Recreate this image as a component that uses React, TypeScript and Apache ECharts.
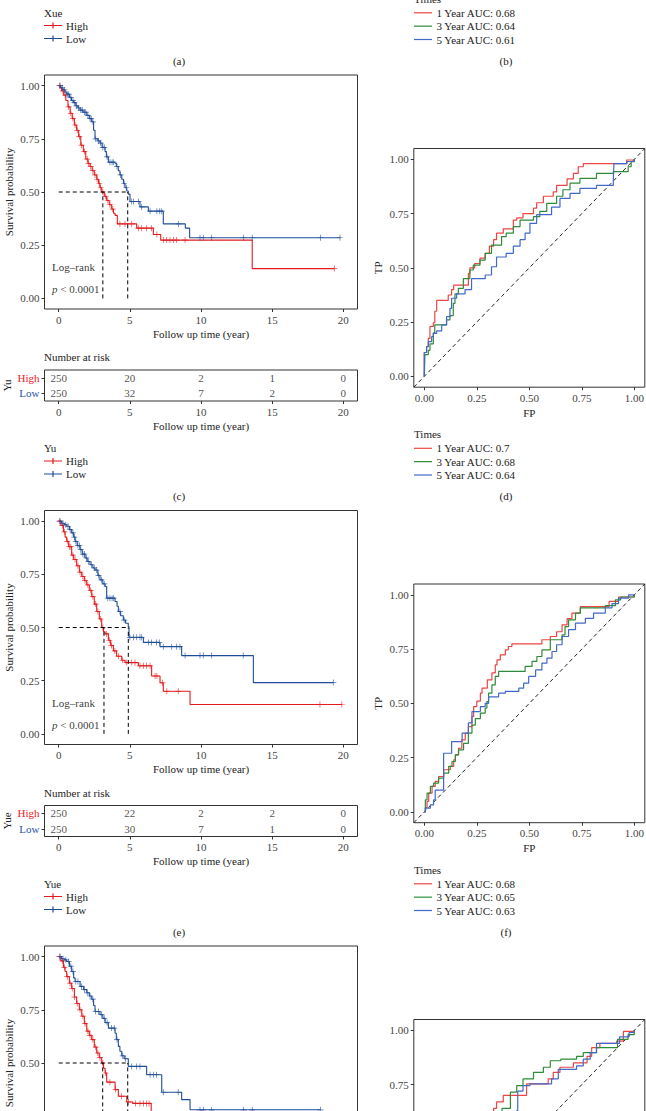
import React, { useEffect, useRef } from 'react';
import * as echarts from 'echarts';

// ---------- data ----------
const timeTicks = [0, 5, 10, 15, 20];
const probTicks = [0, 0.25, 0.5, 0.75, 1];
const riskTimes = [0, 5, 10, 15, 20];
const groups = ['High', 'Low'];
const rocYears = [1, 3, 5];

// (a)/(b) Xue (only legends visible)
const xueName = 'Xue';
const aucXue = [0.68, 0.64, 0.61];

// (c) Yu KM
const yuName = 'Yu';
const yuHighSteps = [[0,1],[0.1,0.99],[0.2,0.975],[0.35,0.955],[0.5,0.93],[0.65,0.9],[0.8,0.87],[0.95,0.845],[1.1,0.815],[1.26,0.79],[1.4,0.76],[1.55,0.72],[1.73,0.69],[1.9,0.655],[2.05,0.635],[2.2,0.62],[2.35,0.6],[2.5,0.58],[2.67,0.56],[2.8,0.54],[2.9,0.52],[3.02,0.5],[3.2,0.48],[3.37,0.46],[3.55,0.44],[3.72,0.42],[3.85,0.4],[3.96,0.39],[4.12,0.35],[5.48,0.33],[6.65,0.3],[7.17,0.274],[13.6,0.14],[19.37,0.14]];
const yuLowSteps = [[0,1],[0.15,0.99],[0.3,0.98],[0.45,0.97],[0.56,0.96],[0.75,0.945],[0.9,0.93],[1.03,0.92],[1.2,0.905],[1.35,0.895],[1.5,0.885],[1.7,0.875],[1.97,0.86],[2.15,0.845],[2.32,0.83],[2.45,0.79],[2.55,0.75],[2.75,0.74],[2.9,0.73],[3.05,0.71],[3.26,0.69],[3.35,0.665],[3.49,0.64],[3.96,0.635],[4.05,0.62],[4.19,0.6],[4.3,0.58],[4.43,0.56],[4.55,0.54],[4.66,0.52],[4.78,0.505],[4.89,0.49],[5.01,0.455],[5.71,0.43],[6.3,0.41],[7.35,0.35],[8.9,0.33],[9.2,0.285],[19.8,0.285]];
const yuHighCensor = [0.05,0.3,0.45,0.7,0.85,1.0,1.15,1.3,1.45,1.6,1.8,2.0,2.1,2.25,2.4,2.55,2.7,2.85,2.95,3.1,3.3,3.45,3.6,3.8,4.3,4.66,5.13,5.6,5.83,6.18,6.53,6.9,7.35,7.59,7.82,8.06,8.29,8.88,19.37];
const yuLowCensor = [0.1,0.25,0.4,0.6,0.7,0.85,1.0,1.1,1.25,1.4,1.55,1.65,1.8,1.9,2.05,2.2,2.28,2.4,2.6,2.8,2.95,3.1,3.2,3.4,3.6,3.75,3.85,4.1,4.35,4.6,4.75,5.13,5.25,5.6,5.83,6.42,6.9,7.1,7.24,8.41,9.93,10.16,10.75,13.0,13.6,18.4,19.77];
const yuMedians = [3.1, 4.85];
const yuRiskHigh = [250, 20, 2, 1, 0];
const yuRiskLow = [250, 32, 7, 2, 0];

// (d) Yu ROC
const aucYu = [0.7, 0.68, 0.64];
const rocYu1 = [[0,0],[0,0.11],[0.011,0.137],[0.019,0.175],[0.027,0.23],[0.043,0.247],[0.05,0.3],[0.059,0.35],[0.114,0.375],[0.13,0.4],[0.14,0.42],[0.21,0.475],[0.217,0.5],[0.24,0.52],[0.265,0.545],[0.29,0.567],[0.31,0.6],[0.33,0.63],[0.344,0.66],[0.376,0.68],[0.424,0.72],[0.44,0.73],[0.47,0.75],[0.52,0.775],[0.535,0.8],[0.567,0.83],[0.614,0.85],[0.63,0.88],[0.68,0.91],[0.71,0.935],[0.733,0.966],[0.757,0.98],[0.963,0.997],[1,1]];
const rocYu3 = [[0,0],[0.003,0.1],[0.019,0.12],[0.027,0.15],[0.043,0.2],[0.05,0.237],[0.106,0.26],[0.122,0.28],[0.138,0.336],[0.146,0.38],[0.162,0.405],[0.186,0.45],[0.217,0.49],[0.233,0.513],[0.265,0.536],[0.29,0.567],[0.32,0.605],[0.368,0.644],[0.39,0.66],[0.424,0.69],[0.456,0.72],[0.52,0.736],[0.55,0.76],[0.583,0.797],[0.63,0.83],[0.66,0.86],[0.694,0.89],[0.741,0.912],[0.82,0.935],[0.9,0.943],[0.971,0.966],[0.985,0.989],[1,1]];
const rocYu5 = [[0,0],[0,0.11],[0.011,0.137],[0.019,0.16],[0.035,0.183],[0.043,0.198],[0.059,0.21],[0.083,0.237],[0.106,0.275],[0.122,0.313],[0.13,0.36],[0.154,0.38],[0.194,0.4],[0.225,0.45],[0.29,0.467],[0.32,0.505],[0.344,0.55],[0.39,0.567],[0.424,0.6],[0.456,0.63],[0.48,0.66],[0.503,0.705],[0.535,0.745],[0.606,0.78],[0.646,0.82],[0.694,0.843],[0.741,0.866],[0.82,0.88],[0.9,0.905],[0.903,0.98],[0.965,0.99],[1,1]];

// (e) Yue KM
const yueName = 'Yue';
const yueHighSteps = [[0,1],[0.15,0.98],[0.33,0.95],[0.45,0.925],[0.56,0.905],[0.7,0.88],[0.91,0.84],[1.05,0.82],[1.26,0.79],[1.45,0.76],[1.62,0.74],[1.8,0.72],[1.97,0.7],[2.15,0.675],[2.32,0.645],[2.5,0.61],[2.67,0.575],[2.85,0.54],[3.02,0.5],[3.15,0.48],[3.26,0.47],[3.49,0.44],[3.65,0.415],[3.84,0.39],[4.07,0.365],[4.43,0.346],[4.66,0.335],[5.6,0.32],[6.53,0.272],[7.12,0.24],[7.35,0.2],[9.23,0.138],[19.9,0.138]];
const yueLowSteps = [[0,1],[0.2,0.99],[0.4,0.983],[0.56,0.976],[0.75,0.96],[0.91,0.945],[1.05,0.925],[1.15,0.905],[1.3,0.885],[1.5,0.866],[1.65,0.845],[1.85,0.827],[2.0,0.81],[2.2,0.795],[2.4,0.78],[2.55,0.77],[2.75,0.745],[2.9,0.724],[3.1,0.705],[3.26,0.693],[3.37,0.638],[3.96,0.622],[4.1,0.6],[4.19,0.575],[4.35,0.555],[4.54,0.535],[4.7,0.52],[4.89,0.504],[4.94,0.454],[5.95,0.43],[7.12,0.41],[8.64,0.368],[13.68,0.241],[19.3,0.241]];
const yueHighCensor = [0.05,0.25,0.4,0.6,0.75,0.85,1.0,1.15,1.35,1.5,1.7,1.85,2.05,2.25,2.4,2.6,2.75,2.95,3.1,3.35,3.55,3.7,3.95,4.2,4.5,4.78,5.13,5.36,5.71,5.95,6.18,6.42,6.77,6.9,7.3,7.6,8.4,18.36,19.9];
const yueLowCensor = [0.1,0.3,0.5,0.65,0.8,1.0,1.1,1.2,1.35,1.45,1.55,1.7,1.8,1.95,2.1,2.3,2.5,2.65,2.8,3.0,3.2,3.45,3.6,3.75,3.85,4.3,4.6,5.0,5.25,5.48,5.71,5.83,6.3,6.53,6.88,7.07,7.35,7.94,8.29,8.52,8.88,9.93,10.16,10.75,12.97,19.3];
const yueMedians = [3.18, 4.89];
const yueRiskHigh = [250, 22, 2, 2, 0];
const yueRiskLow = [250, 30, 7, 1, 0];

// (f) Yue ROC
const aucYue = [0.68, 0.65, 0.63];
const rocYue1 = [[0,0],[0.005,0.02],[0.013,0.048],[0.021,0.086],[0.037,0.117],[0.052,0.14],[0.068,0.163],[0.092,0.194],[0.124,0.21],[0.14,0.24],[0.148,0.263],[0.163,0.293],[0.179,0.332],[0.195,0.363],[0.21,0.393],[0.227,0.44],[0.235,0.485],[0.25,0.51],[0.267,0.547],[0.275,0.57],[0.3,0.608],[0.322,0.64],[0.338,0.677],[0.346,0.7],[0.362,0.723],[0.386,0.746],[0.4,0.762],[0.417,0.774],[0.56,0.793],[0.6,0.808],[0.63,0.83],[0.656,0.862],[0.68,0.89],[0.703,0.916],[0.743,0.946],[0.88,0.97],[0.925,0.99],[1,1]];
const rocYue3 = [[0,0],[0.005,0.055],[0.013,0.086],[0.029,0.117],[0.044,0.132],[0.068,0.155],[0.092,0.178],[0.116,0.21],[0.132,0.232],[0.148,0.263],[0.163,0.286],[0.187,0.316],[0.21,0.363],[0.227,0.4],[0.243,0.43],[0.267,0.455],[0.29,0.478],[0.298,0.508],[0.306,0.547],[0.322,0.585],[0.338,0.624],[0.354,0.647],[0.48,0.67],[0.513,0.693],[0.536,0.716],[0.56,0.746],[0.6,0.793],[0.656,0.816],[0.67,0.854],[0.687,0.885],[0.72,0.916],[0.743,0.94],[0.862,0.95],[0.91,0.977],[0.935,0.99],[1,1]];
const rocYue5 = [[0,0],[0.005,0.017],[0.029,0.032],[0.044,0.055],[0.052,0.1],[0.092,0.27],[0.13,0.324],[0.18,0.363],[0.21,0.41],[0.227,0.462],[0.267,0.485],[0.29,0.5],[0.306,0.53],[0.354,0.547],[0.386,0.555],[0.45,0.57],[0.473,0.593],[0.497,0.624],[0.53,0.654],[0.56,0.685],[0.584,0.708],[0.608,0.739],[0.63,0.77],[0.656,0.808],[0.687,0.84],[0.72,0.87],[0.767,0.892],[0.806,0.916],[0.862,0.94],[0.894,0.96],[0.925,0.985],[0.973,1],[1,1]];

// (g) third KM (partly visible)
const thirdHighSteps = [[0,1],[0.15,0.98],[0.33,0.95],[0.45,0.93],[0.56,0.906],[0.75,0.875],[0.91,0.85],[1.1,0.81],[1.26,0.78],[1.45,0.75],[1.62,0.72],[1.8,0.685],[1.97,0.65],[2.15,0.63],[2.32,0.61],[2.5,0.575],[2.67,0.547],[2.85,0.525],[3.02,0.5],[3.15,0.475],[3.26,0.453],[3.37,0.41],[3.96,0.375],[4.19,0.344],[4.78,0.317],[5.2,0.31],[6.5,0.27],[7.5,0.23],[9.0,0.2],[12.0,0.16],[19.5,0.16]];
const thirdLowSteps = [[0,1],[0.2,0.99],[0.4,0.985],[0.56,0.977],[0.75,0.955],[0.91,0.93],[1.05,0.9],[1.15,0.883],[1.5,0.86],[1.75,0.845],[1.97,0.83],[2.15,0.815],[2.32,0.8],[2.45,0.77],[2.55,0.742],[2.9,0.727],[3.1,0.71],[3.26,0.69],[3.49,0.664],[3.96,0.64],[4.05,0.61],[4.19,0.578],[4.3,0.555],[4.43,0.534],[4.6,0.52],[4.89,0.484],[6.18,0.445],[7.24,0.3625],[8.64,0.328],[9.23,0.28],[18.4,0.28]];
const thirdHighCensor = [0.05,0.25,0.4,0.6,0.8,0.95,1.1,1.3,1.5,1.7,1.85,2.05,2.2,2.4,2.6,2.75,2.9,3.1,3.3,3.6,4.0,4.4,4.9,5.4,5.71,5.95,6.18,6.35];
const thirdLowCensor = [0.1,0.3,0.5,0.7,0.85,1.0,1.2,1.35,1.6,1.8,2.0,2.2,2.4,2.6,2.8,3.0,3.2,3.4,3.7,3.9,4.1,4.5,4.7,5.13,5.48,5.71,6.42,6.65,6.88,7.35,8.4,9.93,10.16,10.75,13.0,13.6,18.4];
const thirdMedians = [3.09, 4.85];

// (h) third ROC (partly visible)
const rocThird1 = [[0,0],[0.02,0.08],[0.06,0.15],[0.12,0.25],[0.2,0.4],[0.28,0.55],[0.33,0.64],[0.344,0.67],[0.376,0.7],[0.487,0.753],[0.59,0.776],[0.614,0.806],[0.646,0.83],[0.71,0.85],[0.775,0.88],[0.797,0.92],[0.836,0.94],[0.916,0.95],[0.948,0.995],[1,1]];
const rocThird3 = [[0,0],[0.02,0.1],[0.08,0.2],[0.15,0.35],[0.25,0.5],[0.33,0.6],[0.37,0.64],[0.41,0.715],[0.44,0.745],[0.47,0.776],[0.52,0.806],[0.567,0.83],[0.6,0.86],[0.65,0.867],[0.725,0.88],[0.757,0.897],[0.82,0.92],[0.92,0.958],[0.97,0.98],[1,1]];
const rocThird5 = [[0,0],[0.03,0.08],[0.1,0.2],[0.2,0.35],[0.3,0.48],[0.4,0.58],[0.44,0.63],[0.445,0.72],[0.47,0.745],[0.503,0.753],[0.606,0.776],[0.638,0.82],[0.725,0.836],[0.757,0.867],[0.79,0.897],[0.82,0.94],[0.93,0.97],[0.975,0.99],[1,1]];

// ---------- styling / layout ----------
const FONT = '"Liberation Serif", "DejaVu Serif", serif';
const KM_RED = '#E41A1C';
const KM_BLUE = '#1F4E99';
const ROC_COLORS = ['#EE4444', '#2E8B3A', '#4169C8'];
const TXT = '#222';
const TICK_TXT = '#444';
const P = 435.5;
const KM_LEFT = 44.5, KM_W = 313, KM_TOP = 75, KM_H = 234;
const RISK_TOP = 370, RISK_H = 31;
const ROC_LEFT = 413.8, ROC_W = 231, ROC_TOP = 148.5, ROC_H = 238.7;
const PLUS = 'path://M4.4,0H5.6V4.4H10V5.6H5.6V10H4.4V5.6H0V4.4H4.4Z';

function survAt(steps: number[][], t: number) {
  let s = steps[0][1];
  for (const [ti, si] of steps) {
    if (ti <= t) s = si; else break;
  }
  return s;
}

function valueAxis(min: number, max: number, ticks: number[], fmt: (v: number) => string, extra: any) {
  return {
    type: 'value', min, max,
    splitLine: { show: false },
    axisLine: { show: false, onZero: false },
    axisTick: { show: true, length: 3, customValues: ticks, lineStyle: { color: '#333', width: 1 } },
    axisLabel: { customValues: ticks, formatter: fmt, fontFamily: FONT, fontSize: 11, color: TICK_TXT, margin: 5 },
    nameLocation: 'middle',
    nameTextStyle: { fontFamily: FONT, fontSize: 11, color: TXT },
    ...extra,
  };
}

function buildOption() {
  const grid: any[] = [], xAxis: any[] = [], yAxis: any[] = [], series: any[] = [], graphic: any[] = [];
  const addGrid = (g: any, x: any, y: any) => {
    grid.push({ show: true, borderColor: '#333', borderWidth: 1, backgroundColor: 'transparent', containLabel: false, outerBoundsMode: 'none', ...g });
    const i = grid.length - 1;
    xAxis.push({ ...x, gridIndex: i });
    yAxis.push({ ...y, gridIndex: i });
    return i;
  };
  const txt = (text: string, x: number, y: number, opts: any = {}) => {
    graphic.push({
      type: 'text', x, y, silent: true,
      style: { text, fill: TXT, font: `${opts.size || 11}px ${FONT}`, align: opts.align || 'left', verticalAlign: 'middle', textAlign: opts.align || 'left', textVerticalAlign: 'middle' },
    });
  };

  // offPage: panel whose bottom axis falls beyond the picture (hide its off-page texts)
  const kmPanel = (dy: number, high: number[][], low: number[][], hc: number[], lc: number[], med: number[], offPage = false) => {
    const xExtra: any = offPage
      ? { axisLabel: { show: false }, name: '' }
      : { name: 'Follow up time (year)', nameGap: 19 };
    const gi = addGrid(
      { left: KM_LEFT, top: KM_TOP + dy, width: KM_W, height: KM_H },
      valueAxis(-1, 21, timeTicks, (v) => String(v), xExtra),
      valueAxis(-0.05, 1.05, probTicks, (v) => v.toFixed(2), { name: 'Survival probability', nameGap: 30 })
    );
    const ax = { xAxisIndex: gi, yAxisIndex: gi };
    [[high, hc, KM_RED], [low, lc, KM_BLUE]].forEach(([steps, cens, col]: any) => {
      series.push({ type: 'line', ...ax, data: steps, step: 'end', symbol: 'none', lineStyle: { color: col, width: 1.1 }, silent: true, z: 3 });
      series.push({ type: 'scatter', ...ax, data: cens.map((t: number) => [t, survAt(steps, t)]), symbol: PLUS, symbolSize: 6, itemStyle: { color: col }, silent: true, z: 4 });
    });
    const [m1, m2] = med;
    [[[0, 0.5], [Math.max(m1, m2), 0.5]], [[m1, 0], [m1, 0.5]], [[m2, 0], [m2, 0.5]]].forEach((d) => {
      series.push({ type: 'line', ...ax, data: d, symbol: 'none', lineStyle: { color: '#000', width: 1, type: [4, 3] }, silent: true, z: 5 });
    });
    if (!offPage) {
      series.push({
        type: 'scatter', ...ax, symbolSize: 1, itemStyle: { color: 'transparent' }, silent: true, z: 6,
        data: [[-0.5, 0.147, 'Log–rank'], [-0.5, 0.044, 'p']],
        label: {
          show: true, position: 'right', distance: 0, fontFamily: FONT, fontSize: 11, color: '#000',
          formatter: (p: any) => (p.value[2] === 'p' ? '{i|p} < 0.0001' : p.value[2]),
          rich: { i: { fontStyle: 'italic', fontFamily: FONT, fontSize: 11, color: '#000' } },
        },
      });
    }
  };

  const riskPanel = (dy: number, name: string, rh: number[], rl: number[]) => {
    const gi = addGrid(
      { left: KM_LEFT, top: RISK_TOP + dy, width: KM_W, height: RISK_H },
      valueAxis(-1, 21, timeTicks, (v) => String(v), { name: 'Follow up time (year)', nameGap: 19 }),
      {
        type: 'category', data: groups, inverse: true,
        axisLine: { show: false, onZero: false },
        axisTick: { show: true, alignWithLabel: true, length: 3, lineStyle: { color: '#333' } },
        axisLabel: {
          margin: 5, fontFamily: FONT, fontSize: 11,
          formatter: (v: string) => `{${v}|${v}}`,
          rich: { High: { color: KM_RED, fontFamily: FONT, fontSize: 11 }, Low: { color: '#2B55A5', fontFamily: FONT, fontSize: 11 } },
        },
        name, nameLocation: 'middle', nameGap: 32,
        nameTextStyle: { fontFamily: FONT, fontSize: 11, color: TXT },
      }
    );
    [[rh, 0], [rl, 1]].forEach(([vals, row]: any) => {
      series.push({
        type: 'scatter', xAxisIndex: gi, yAxisIndex: gi, symbolSize: 1, itemStyle: { color: 'transparent' }, silent: true,
        data: riskTimes.map((t, i) => [t, row, vals[i]]),
        label: { show: true, position: 'inside', formatter: (p: any) => String(p.value[2]), fontFamily: FONT, fontSize: 11, color: TXT },
      });
    });
    txt('Number at risk', 44, 357 + dy);
  };

  const rocPanel = (dy: number, curves: number[][][], offPage = false) => {
    const gi = addGrid(
      { left: ROC_LEFT, top: ROC_TOP + dy, width: ROC_W, height: ROC_H },
      valueAxis(-0.05, 1.05, probTicks, (v) => v.toFixed(2), offPage ? { axisLabel: { show: false }, name: '' } : { name: 'FP', nameGap: 20 }),
      valueAxis(-0.05, 1.05, probTicks, (v) => v.toFixed(2), offPage ? { name: '' } : { name: 'TP', nameGap: 30 })
    );
    const ax = { xAxisIndex: gi, yAxisIndex: gi };
    series.push({ type: 'line', ...ax, data: [[-0.05, -0.05], [1.05, 1.05]], symbol: 'none', lineStyle: { color: '#222', width: 1, type: [4, 3] }, silent: true, z: 2 });
    curves.forEach((c, i) => {
      series.push({ type: 'line', ...ax, data: c, step: 'end', symbol: 'none', lineStyle: { color: ROC_COLORS[i], width: 1.2 }, silent: true, z: 3 + i });
    });
  };

  const kmLegend = (dy: number, name: string, label: string) => {
    txt(name, 44, 448 + dy);
    [[KM_RED, 'High', 461], [KM_BLUE, 'Low', 474]].forEach(([c, t, y]: any) => {
      graphic.push({ type: 'line', silent: true, shape: { x1: 44, y1: y + dy, x2: 62, y2: y + dy }, style: { stroke: c, lineWidth: 1 } });
      graphic.push({ type: 'line', silent: true, shape: { x1: 53, y1: y + dy - 3, x2: 53, y2: y + dy + 3 }, style: { stroke: c, lineWidth: 1.2 } });
      txt(t, 66, y + dy);
    });
    txt(label, 179, 496 + dy, { align: 'center' });
  };

  const rocLegend = (dy: number, aucs: number[], label: string) => {
    txt('Times', 414, 434 + dy);
    aucs.forEach((a, i) => {
      const y = 448.3 + i * 13.35 + dy;
      graphic.push({ type: 'line', silent: true, shape: { x1: 414, y1: y, x2: 432, y2: y }, style: { stroke: ROC_COLORS[i], lineWidth: 1.2 } });
      txt(`${rocYears[i]} Year AUC: ${a}`, 436.5, y);
    });
    txt(label, 506, 496 + dy, { align: 'center' });
  };

  // top partial (a), (b)
  kmLegend(-P, xueName, '(a)');
  rocLegend(-P, aucXue, '(b)');
  // (c), (d)
  kmPanel(0, yuHighSteps, yuLowSteps, yuHighCensor, yuLowCensor, yuMedians);
  riskPanel(0, yuName, yuRiskHigh, yuRiskLow);
  kmLegend(0, yuName, '(c)');
  rocPanel(0, [rocYu1, rocYu3, rocYu5]);
  rocLegend(0, aucYu, '(d)');
  // (e), (f)
  kmPanel(P, yueHighSteps, yueLowSteps, yueHighCensor, yueLowCensor, yueMedians);
  riskPanel(P, yueName, yueRiskHigh, yueRiskLow);
  kmLegend(P, yueName, '(e)');
  rocPanel(P, [rocYue1, rocYue3, rocYue5]);
  rocLegend(P, aucYue, '(f)');
  // bottom partial
  kmPanel(2 * P, thirdHighSteps, thirdLowSteps, thirdHighCensor, thirdLowCensor, thirdMedians, true);
  rocPanel(2 * P, [rocThird1, rocThird3, rocThird5], true);

  return { animation: false, backgroundColor: '#fff', grid, xAxis, yAxis, series, graphic };
}

export default function App() {
  const ref = useRef<HTMLDivElement>(null);
  useEffect(() => {
    if (!ref.current) return;
    const chart = echarts.init(ref.current, null, { renderer: 'svg' });
    chart.setOption(buildOption() as any);
    return () => chart.dispose();
  }, []);
  return <div ref={ref} style={{ position: 'absolute', left: 0, top: 0, width: 646, height: 1111, background: '#fff' }} />;
}
